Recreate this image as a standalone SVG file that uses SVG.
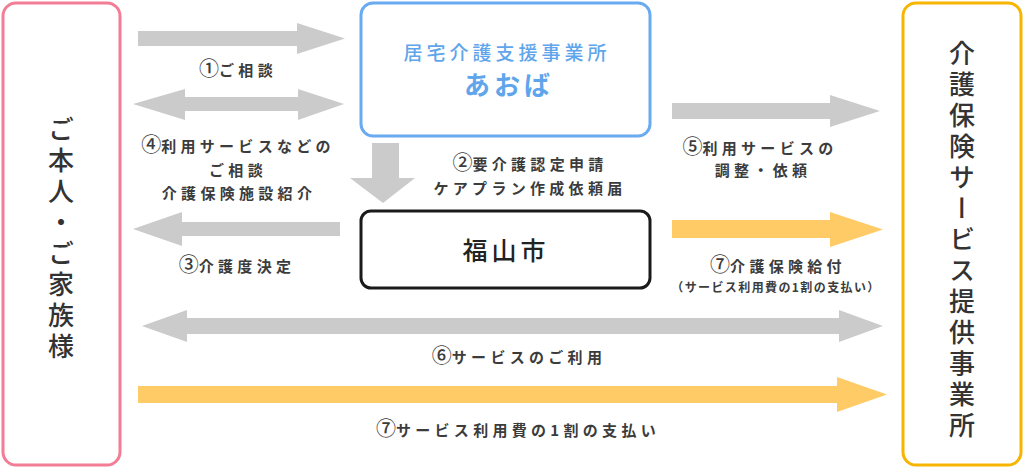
<svg xmlns="http://www.w3.org/2000/svg" width="1024" height="468" viewBox="0 0 1024 468">
<style>
.box{fill:#fff;stroke-width:3}
.lbl{font-family:"Noto Sans CJK JP","Noto Sans",sans-serif;font-size:15px;font-weight:700;fill:#3c3c3c;letter-spacing:4.3px;text-anchor:middle}
.n{font-family:"Noto Sans CJK JP",sans-serif;font-size:20px;font-weight:500;letter-spacing:0px}
.sm{font-size:12px;letter-spacing:1.4px}
.vt{font-family:"Noto Sans CJK JP","Noto Sans",sans-serif;font-size:26px;font-weight:500;fill:#333;writing-mode:vertical-rl;letter-spacing:5px}
.gray{fill:#cbcbcb}
.yel{fill:#ffcb66}
</style>
<rect width="1024" height="468" fill="#fff"/>
<g id="connectors">
<polygon class="gray" points="138,31 297,31 297,23 345,38.5 297,54 297,46 138,46"/>
<polygon class="gray" points="133,104 185,89 185,97 298,97 298,89 344,104 298,120 298,111 185,111 185,120"/>
<polygon class="gray" points="372,143 399,143 399,178 415,178 383,203 350,178 372,178"/>
<polygon class="gray" points="133,229 182,212 182,222 340,222 340,236 182,236 182,246"/>
<polygon class="gray" points="672,103 830,103 830,95 880,111 830,127 830,119 672,119"/>
<polygon class="yel" points="672,220 830,220 830,212 883,229.5 830,247 830,238 672,238"/>
<polygon class="gray" points="142,326 187,310 187,318 839,318 839,310 883,326 839,342 839,334 187,334 187,342"/>
<polygon class="yel" points="138,386 837,386 837,377 887,394.5 837,412 837,403 138,403"/>
</g>
<g id="label1"><text class="lbl" x="238" y="76"><tspan class="n">①</tspan>ご相談</text></g>
<g id="label4"><text class="lbl" x="238" y="152"><tspan class="n">④</tspan>利用サービスなどの</text><text class="lbl" x="238" y="176">ご相談</text><text class="lbl" x="239" y="199">介護保険施設紹介</text></g>
<g id="label2"><text class="lbl" x="530" y="170"><tspan class="n">②</tspan>要介護認定申請</text><text class="lbl" x="530" y="194">ケアプラン作成依頼届</text></g>
<g id="label3"><text class="lbl" x="237" y="272"><tspan class="n">③</tspan>介護度決定</text></g>
<g id="label5"><text class="lbl" x="760" y="154"><tspan class="n">⑤</tspan>利用サービスの</text><text class="lbl" x="763" y="176">調整・依頼</text></g>
<g id="label7a"><text class="lbl" x="778" y="272"><tspan class="n">⑦</tspan>介護保険給付</text><text class="lbl sm" x="776" y="292">（サービス利用費の1割の支払い）</text></g>
<g id="label6"><text class="lbl" x="519" y="363"><tspan class="n">⑥</tspan>サービスのご利用</text></g>
<g id="label7b"><text class="lbl" x="518" y="436"><tspan class="n">⑦</tspan>サービス利用費の1割の支払い</text></g>
<g id="person">
<rect class="box" x="3" y="3" width="117" height="462" rx="13" stroke="#f27d95"/>
<text class="vt" x="61" y="116">ご本人・ご家族様</text>
</g>
<g id="provider">
<rect class="box" x="903" y="3" width="118" height="462" rx="13" stroke="#f7b500"/>
<text class="vt" x="962" y="40">介護保険サービス提供事業所</text>
</g>
<g id="aoba">
<rect class="box" x="361" y="3" width="289" height="133" rx="12" stroke="#6aaaf0"/>
<text x="507" y="60" font-family="Noto Sans CJK JP,sans-serif" font-size="19" font-weight="500" fill="#5fa5ec" text-anchor="middle" letter-spacing="4">居宅介護支援事業所</text>
<text x="509" y="95" font-family="Noto Sans CJK JP,sans-serif" font-size="26" font-weight="700" fill="#5fa5ec" text-anchor="middle" letter-spacing="4">あおば</text>
</g>
<g id="fukuyama">
<rect class="box" x="361" y="211" width="289" height="77" rx="10" stroke="#1a1a1a"/>
<text x="506" y="260" font-family="Noto Sans CJK JP,sans-serif" font-size="25" font-weight="500" fill="#222" text-anchor="middle" letter-spacing="4">福山市</text>
</g>
</svg>
